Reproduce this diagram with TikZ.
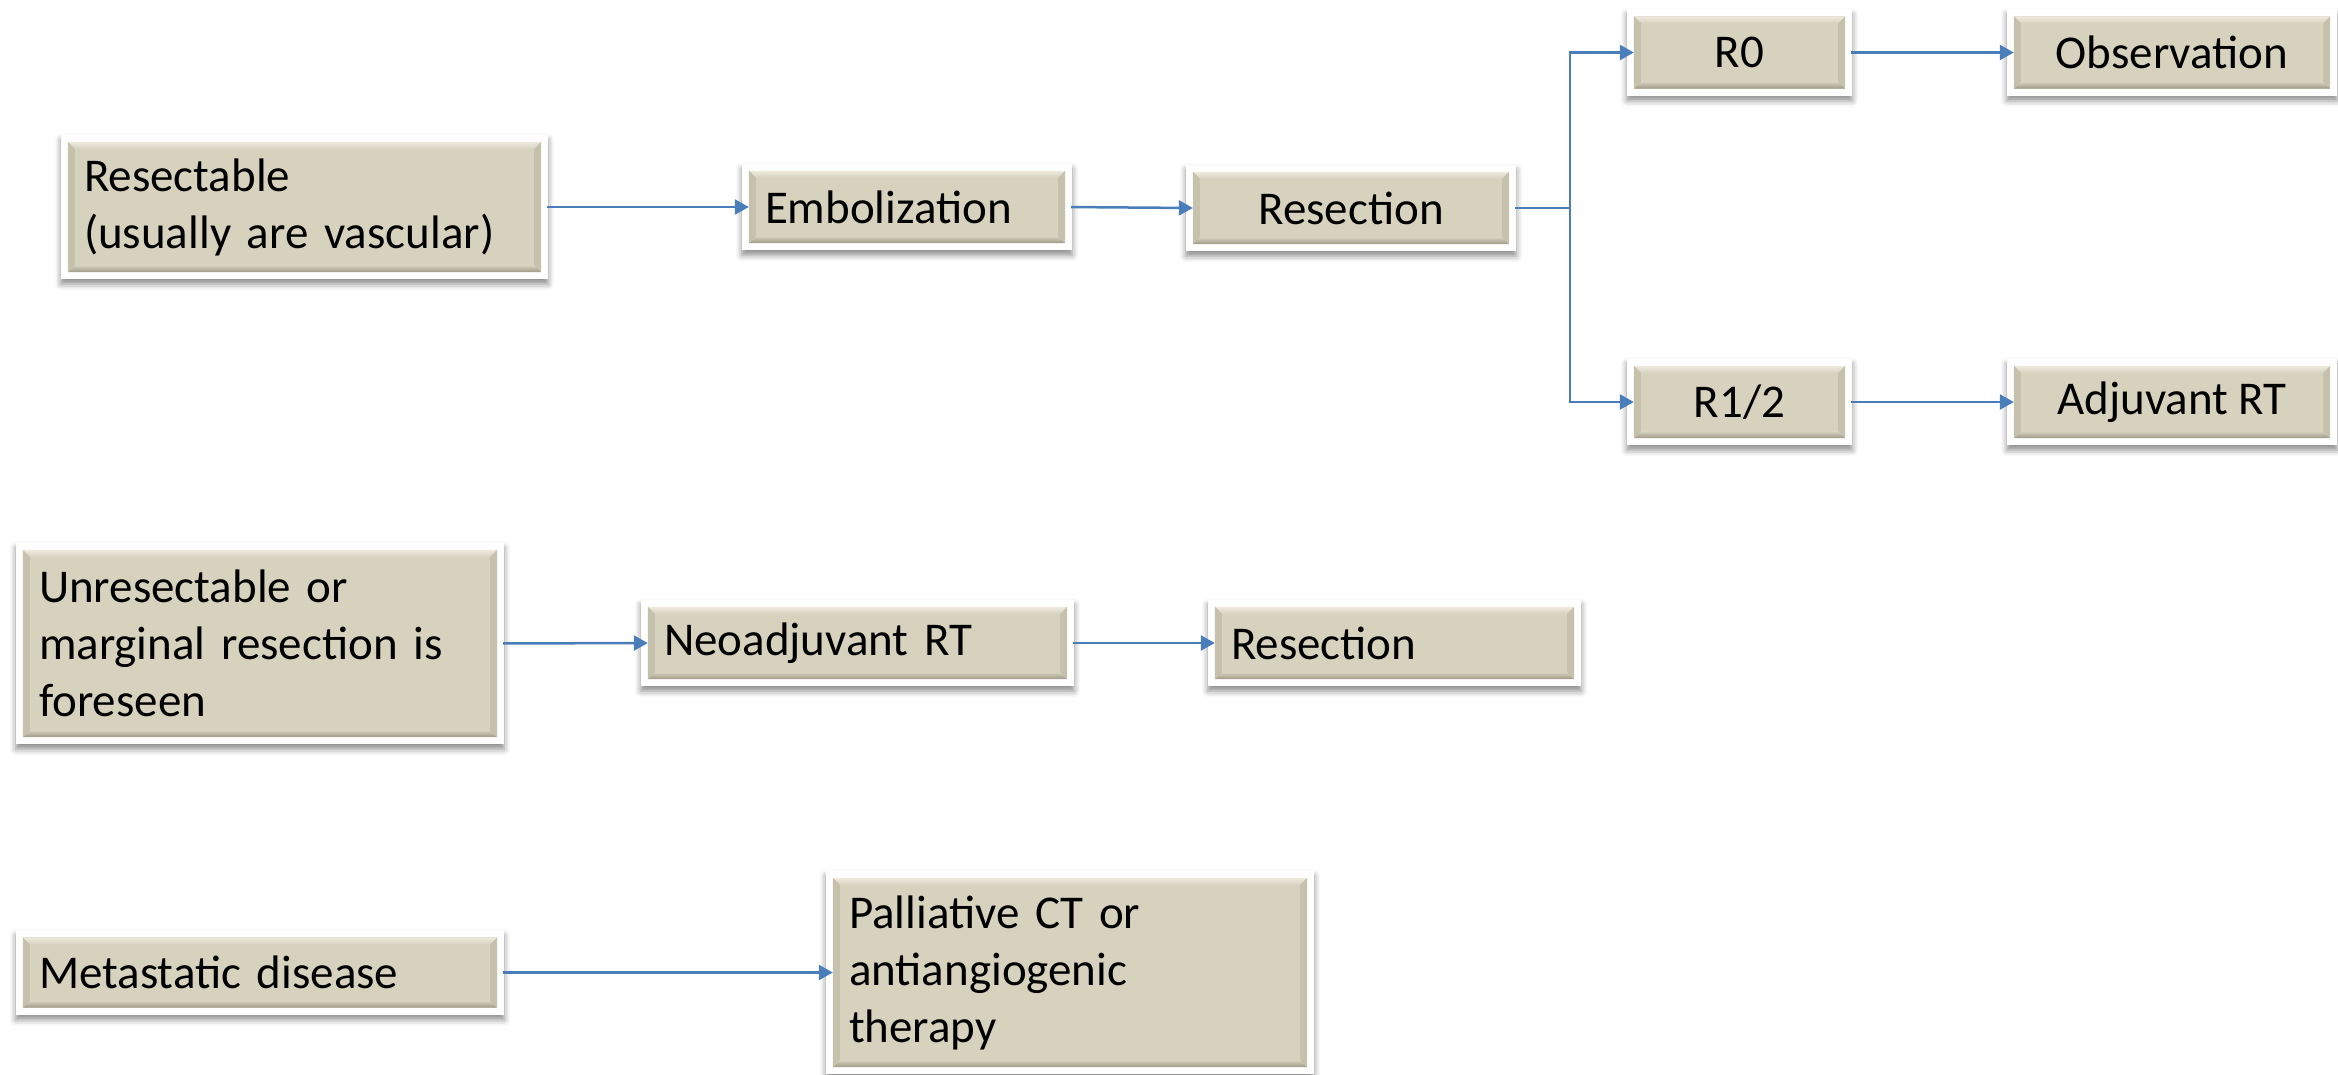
\documentclass[tikz,border=0pt]{standalone}
\usepackage{fontspec}
\setmainfont{Carlito}
\usetikzlibrary{arrows.meta,calc,shadows.blur}
\pgfdeclarelayer{background}
\pgfsetlayers{background,main}
\definecolor{boxfill}{RGB}{215,210,190}
\definecolor{bevlight}{RGB}{238,235,222}
\definecolor{bevdark}{RGB}{158,153,134}
\definecolor{bevside}{RGB}{198,193,173}
\definecolor{arrowblue}{RGB}{74,126,187}
\begin{document}
\begin{tikzpicture}[x=1pt,y=-1pt,
  plaque/.style={rectangle, inner sep=0pt, inner xsep=16pt, minimum height=72pt,
    font=\fontsize{47}{57}\selectfont, text=black},
  lefttext/.style={align=left, text width=#1},
  midtext/.style={align=center, minimum width=#1},
  link/.style={draw=arrowblue, line width=2.5pt},
  tip/.style={-{Triangle[length=14pt,width=15pt]}},
  gap/.style={shorten <=6pt},
]
\useasboundingbox (0,0) rectangle (2338,1074);

% top row: resectable tumours
\node[plaque, lefttext=441pt, minimum height=130pt] (res1) at (304.5,207)
  {Resectable\\(usually are vascular)};
\node[plaque, lefttext=284pt] (emb) at (907,207) {Embolization};
\node[plaque, midtext=316pt] (resA) at (1351,208) {Resection};
\node[plaque, midtext=211pt] (r0) at (1739.5,52.5) {R0};
\node[plaque, midtext=316pt] (obs) at (2172,52.5) {Observation};
\node[plaque, midtext=211pt] (r12) at (1739.5,402) {R1/2};
\node[plaque, midtext=316pt] (adj) at (2172,402) {Adjuvant RT};

% middle row: unresectable tumours
\node[plaque, lefttext=442pt, minimum height=187pt] (unres) at (260,643.5)
  {Unresectable or\\marginal resection is\\foreseen};
\node[plaque, lefttext=387pt] (neo) at (857.5,643) {Neoadjuvant RT};
\node[plaque, lefttext=327pt] (resB) at (1394.5,643) {Resection};

% bottom row: metastatic disease
\node[plaque, lefttext=442pt, minimum height=70pt] (meta) at (260,972.5) {Metastatic disease};
\node[plaque, lefttext=442pt, minimum height=189pt] (pall) at (1070,972.5)
  {Palliative CT or\\antiangiogenic\\therapy};

% white frames, drop shadows and bevelled beige faces
\begin{pgfonlayer}{background}
\foreach \nd in {res1,emb,resA,r0,obs,r12,adj,unres,neo,resB,meta,pall}{
  \fill[white, blur shadow={shadow xshift=0pt, shadow yshift=-5pt,
      shadow blur radius=6pt, shadow opacity=45}]
    ([shift={(-7pt,-7pt)}]\nd.south west) rectangle ([shift={(7pt,7pt)}]\nd.north east);
  \fill[boxfill] (\nd.south west) rectangle (\nd.north east);
  \shade[top color=bevlight, bottom color=boxfill]
    (\nd.north west) -- (\nd.north east) -- ([shift={(-7pt,-7pt)}]\nd.north east)
    -- ([shift={(7pt,-7pt)}]\nd.north west) -- cycle;
  \shade[top color=boxfill, bottom color=bevdark]
    (\nd.south west) -- (\nd.south east) -- ([shift={(-7pt,7pt)}]\nd.south east)
    -- ([shift={(7pt,7pt)}]\nd.south west) -- cycle;
  \fill[bevside]
    (\nd.south west) -- (\nd.north west) -- ([shift={(7pt,-7pt)}]\nd.north west)
    -- ([shift={(7pt,7pt)}]\nd.south west) -- cycle;
  \fill[bevside]
    (\nd.south east) -- (\nd.north east) -- ([shift={(-7pt,-7pt)}]\nd.north east)
    -- ([shift={(-7pt,7pt)}]\nd.south east) -- cycle;
}
\end{pgfonlayer}

% connectors
\path (resA.east) ++(61pt,0pt) coordinate (split);
\draw[link, tip, gap] (res1.east) -- (emb.west);
\draw[link, tip, gap] (emb.east) -- (resA.west);
\draw[link, gap] (resA.east) -- (split);
\draw[link, tip] (split) |- (r0.west);
\draw[link, tip] (split) |- (r12.west);
\draw[link, tip, gap] (r0.east) -- (obs.west);
\draw[link, tip, gap] (r12.east) -- (adj.west);
\draw[link, tip, gap] (unres.east) -- (neo.west);
\draw[link, tip, gap] (neo.east) -- (resB.west);
\draw[link, tip, gap] (meta.east) -- (pall.west);
\end{tikzpicture}
\end{document}
